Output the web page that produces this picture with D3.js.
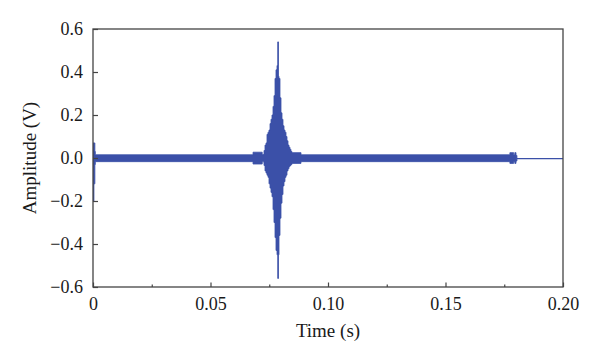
<!DOCTYPE html>
<html>
<head>
<meta charset="utf-8">
<script src="https://cdn.jsdelivr.net/npm/d3@7"></script>
<style>
  html, body { margin: 0; padding: 0; background: #fff; }
  svg { display: block; }
  text { font-family: "Liberation Serif", "Times New Roman", serif; fill: #1a1a1a; }
</style>
</head>
<body>
<svg id="chart" width="600" height="361"></svg>
<script>
const envTime = [0.0000, 0.0004, 0.0008, 0.0010, 0.0681, 0.0720, 0.07277, 0.07319, 0.07362, 0.07404, 0.07447, 0.07489, 0.07532, 0.07574, 0.07617, 0.07660, 0.07702, 0.07745, 0.07787, 0.07830, 0.07860, 0.07894, 0.07915, 0.07957, 0.08000, 0.08043, 0.08085, 0.08128, 0.08170, 0.08213, 0.08255, 0.08298, 0.08340, 0.08383, 0.08426, 0.08468, 0.08851, 0.1774, 0.1790, 0.1795, 0.1800, 0.1804];
const envUpper = [0.070, 0.070, 0.030, 0.015, 0.027, 0.016, 0.035, 0.060, 0.070, 0.110, 0.120, 0.130, 0.160, 0.180, 0.200, 0.240, 0.290, 0.370, 0.410, 0.430, 0.540, 0.380, 0.370, 0.280, 0.210, 0.180, 0.150, 0.130, 0.120, 0.100, 0.080, 0.060, 0.050, 0.040, 0.030, 0.025, 0.015, 0.025, 0.015, 0.025, 0.012, 0.012];
const envLower = [-0.200, -0.120, -0.030, -0.017, -0.028, -0.018, -0.035, -0.060, -0.070, -0.080, -0.090, -0.120, -0.140, -0.160, -0.180, -0.240, -0.300, -0.370, -0.430, -0.450, -0.560, -0.450, -0.360, -0.280, -0.210, -0.170, -0.130, -0.110, -0.090, -0.080, -0.060, -0.050, -0.040, -0.035, -0.030, -0.025, -0.017, -0.025, -0.017, -0.025, -0.014, -0.014];
// Quiet tail after the recording ends
const tailTime = [0.1804, 0.2000];
const tailValue = [-0.003, -0.003];

const xTicks = [0, 0.05, 0.10, 0.15, 0.20];
const xTickLabels = ["0", "0.05", "0.10", "0.15", "0.20"];
const xMinorTicks = [0.025, 0.075, 0.125, 0.175];
const yTicks = [-0.6, -0.4, -0.2, 0.0, 0.2, 0.4, 0.6];
const yTickLabels = ["\u22120.6", "\u22120.4", "\u22120.2", "0.0", "0.2", "0.4", "0.6"];

const margin = { top: 29, right: 37, bottom: 74, left: 93 };
const W = 600, H = 361;
const iw = W - margin.left - margin.right;
const ih = H - margin.top - margin.bottom;

const svg = d3.select("#chart");
const g = svg.append("g").attr("transform", `translate(${margin.left},${margin.top})`);

const x = d3.scaleLinear().domain([0, 0.2]).range([0, iw]);
const y = d3.scaleLinear().domain([-0.6, 0.6]).range([ih, 0]);

svg.append("defs").append("clipPath").attr("id", "clip")
  .append("rect").attr("x", 0).attr("y", 0).attr("width", iw).attr("height", ih);

const color = "#3b50a8";
const env = envTime.map((t, i) => ({ t, hi: envUpper[i], lo: envLower[i] }));
const area = d3.area().x(d => x(d.t)).y0(d => y(d.lo)).y1(d => y(d.hi)).curve(d3.curveStepAfter);

const plot = g.append("g").attr("clip-path", "url(#clip)");
plot.append("path").datum(env).attr("d", area)
  .attr("fill", color).attr("stroke", color).attr("stroke-width", 0.8);

const tail = tailTime.map((t, i) => ({ t, v: tailValue[i] }));
plot.append("path").datum(tail)
  .attr("d", d3.line().x(d => x(d.t)).y(d => y(d.v)))
  .attr("fill", "none").attr("stroke", color).attr("stroke-width", 1.2);

// Frame
const axisColor = "#444";
g.append("rect").attr("x", 0).attr("y", 0).attr("width", iw).attr("height", ih)
  .attr("fill", "none").attr("stroke", axisColor).attr("stroke-width", 1.3);

// X axis (ticks inward)
const xAxis = g.append("g").attr("transform", `translate(0,${ih})`);
xAxis.call(d3.axisBottom(x).tickValues(xTicks).tickSize(-4.5).tickPadding(10)
  .tickFormat((d, i) => xTickLabels[i]));
xAxis.append("g").call(d3.axisBottom(x).tickValues(xMinorTicks).tickSize(-2.5).tickFormat(""));
xAxis.selectAll(".domain").remove();
xAxis.selectAll("line").attr("stroke", axisColor).attr("stroke-width", 1.2);
xAxis.selectAll("text").style("font-size", "18px").attr("fill", "#1a1a1a").attr("font-family", null);

// Y axis (ticks inward)
const yAxis = g.append("g");
yAxis.call(d3.axisLeft(y).tickValues(yTicks).tickSize(-5).tickPadding(10)
  .tickFormat((d, i) => yTickLabels[i]));
yAxis.selectAll(".domain").remove();
yAxis.selectAll("line").attr("stroke", axisColor).attr("stroke-width", 1.2);
yAxis.selectAll("text").style("font-size", "18px").attr("fill", "#1a1a1a").attr("font-family", null);

// Axis titles
svg.append("text").attr("x", margin.left + iw / 2).attr("y", 337)
  .attr("text-anchor", "middle").style("font-size", "19px").text("Time (s)");
svg.append("text").attr("transform", `translate(36,${margin.top + ih / 2}) rotate(-90)`)
  .attr("text-anchor", "middle").style("font-size", "19px").text("Amplitude (V)");
</script>
</body>
</html>
